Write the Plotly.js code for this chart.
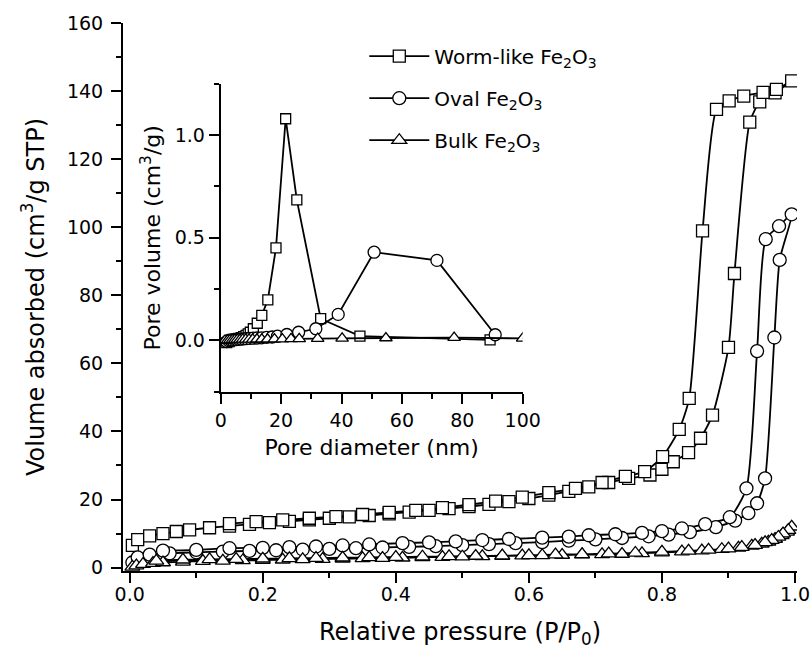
<!DOCTYPE html>
<html>
<head>
<meta charset="utf-8">
<script src="https://cdn.plot.ly/plotly-3.0.1.min.js"></script>
<style>html,body{margin:0;padding:0;background:#fff;}#chart{width:811px;height:654px;}</style>
</head>
<body>
<div id="chart"></div>
<script>
// ---- Main isotherms: adsorption branch (ascending) followed by desorption branch (descending)
const wormP = [0.004,0.012,0.03,0.05,0.07,0.09,0.12,0.15,0.18,0.21,0.24,0.27,0.30,0.33,0.36,0.39,0.42,0.45,0.48,0.51,0.54,0.57,0.60,0.63,0.66,0.69,0.72,0.75,0.782,0.800,0.817,0.840,0.858,0.876,0.900,0.909,0.932,0.947,0.970,0.995,
  0.972,0.952,0.923,0.901,0.882,0.861,0.841,0.826,0.801,0.774,0.745,0.71,0.67,0.63,0.59,0.55,0.51,0.47,0.43,0.39,0.35,0.31,0.27,0.23,0.19,0.15];
const wormV = [6.5,8.2,9.3,10.0,10.6,11.1,11.7,12.2,12.7,13.2,13.6,14.0,14.5,14.9,15.3,15.8,16.3,16.8,17.3,17.9,18.6,19.4,20.3,21.3,22.4,23.7,25.0,26.2,27.2,28.9,31.1,33.8,38.0,44.8,64.7,86.4,130.9,136.8,139.5,143.0,
  140.5,139.6,138.5,137.1,134.6,98.9,49.7,40.6,32.6,28.2,26.8,25.0,23.3,22.0,20.7,19.5,18.5,17.6,16.8,16.2,15.6,15.0,14.5,14.0,13.5,12.9];

const ovalP = [0.004,0.012,0.03,0.06,0.10,0.14,0.18,0.22,0.26,0.30,0.34,0.38,0.42,0.46,0.50,0.54,0.58,0.62,0.66,0.70,0.74,0.78,0.81,0.842,0.881,0.91,0.930,0.943,0.955,0.969,0.977,0.995,
  0.976,0.956,0.943,0.927,0.902,0.865,0.83,0.80,0.77,0.73,0.69,0.66,0.62,0.57,0.53,0.49,0.45,0.41,0.36,0.32,0.28,0.24,0.20,0.15,0.10,0.05];
const ovalV = [1.5,3.0,3.8,4.2,4.5,4.7,4.9,5.1,5.3,5.5,5.7,5.9,6.1,6.3,6.6,6.9,7.2,7.5,7.9,8.3,8.7,9.2,9.7,10.4,11.9,13.8,16.0,18.9,26.2,67.6,90.4,103.8,
  100.3,96.5,63.6,23.3,14.8,12.8,11.5,10.7,10.2,9.8,9.5,9.1,8.8,8.4,8.1,7.7,7.4,7.2,6.8,6.5,6.2,6.0,5.8,5.7,5.2,5.0];

const bulkP = [0.004,0.01,0.02,0.035,0.05,0.08,0.11,0.14,0.17,0.20,0.23,0.26,0.29,0.32,0.35,0.38,0.41,0.44,0.47,0.50,0.53,0.56,0.59,0.62,0.65,0.68,0.71,0.74,0.77,0.80,0.83,0.86,0.89,0.915,0.935,0.95,0.96,0.97,0.98,0.988,0.995,
  0.99,0.982,0.975,0.965,0.955,0.94,0.92,0.90,0.87,0.84,0.80,0.76,0.72,0.68,0.64,0.60,0.56,0.52,0.48,0.44,0.40,0.36,0.32,0.28,0.24,0.20,0.16,0.12,0.08,0.04];
const bulkV = [0.2,0.6,1.0,1.3,1.5,1.7,1.9,2.0,2.1,2.2,2.3,2.4,2.5,2.6,2.7,2.8,2.9,3.0,3.1,3.2,3.3,3.4,3.5,3.6,3.7,3.8,3.9,4.0,4.2,4.4,4.7,5.0,5.4,5.8,6.4,7.0,7.6,8.4,9.5,10.5,12.0,
  11.0,10.0,9.0,8.1,7.4,6.6,6.0,5.6,5.2,4.9,4.6,4.3,4.1,3.9,3.8,3.6,3.5,3.4,3.3,3.2,3.1,3.0,2.9,2.8,2.7,2.6,2.5,2.4,2.3,2.0];

// ---- Inset: pore size distribution
const wormD = [2.0,2.8,3.6,4.4,5.2,6.0,6.8,7.6,8.4,9.1,9.8,10.8,12.1,13.6,15.6,18.3,21.5,25.2,33.1,46.1,89.2];
const wormPV = [-0.01,-0.005,0.0,0.003,0.006,0.01,0.014,0.019,0.025,0.032,0.04,0.057,0.084,0.122,0.198,0.451,1.080,0.685,0.106,0.021,0.003];

const ovalD = [2.0,2.6,3.2,3.8,4.5,5.2,6.0,6.8,7.7,8.6,9.6,10.7,12.0,13.5,15.2,17.0,18.8,21.9,25.8,31.5,38.9,50.8,71.6,90.9];
const ovalPV = [-0.005,0.0,0.002,0.003,0.004,0.005,0.006,0.007,0.008,0.009,0.010,0.011,0.012,0.013,0.015,0.017,0.021,0.029,0.040,0.057,0.127,0.430,0.390,0.028];

const bulkD = [1.4,2.3,3.1,3.9,4.7,5.5,6.4,7.3,8.3,9.4,10.6,12.0,13.6,15.5,17.8,20.4,23.3,26.0,32.1,40.2,54.7,77.3,100.0];
const bulkPV = [0.0,0.002,0.003,0.003,0.004,0.004,0.004,0.005,0.005,0.005,0.005,0.006,0.006,0.006,0.007,0.007,0.008,0.008,0.009,0.010,0.012,0.014,0.010];

const seriesNames = ['Worm-like Fe<sub>2</sub>O<sub>3</sub>', 'Oval Fe<sub>2</sub>O<sub>3</sub>', 'Bulk Fe<sub>2</sub>O<sub>3</sub>'];

const BLACK = '#000';
function mk(symbol, size){ return {symbol: symbol, size: size, color: '#fff', line: {color: BLACK, width: 1.3}}; }

const traces = [
  {x: wormP, y: wormV, mode:'lines+markers', name: seriesNames[0], legendgroup:'a', line:{color:BLACK, width:1.8, shape:'spline', smoothing:0.6}, marker: mk('square',12), xaxis:'x', yaxis:'y'},
  {x: ovalP, y: ovalV, mode:'lines+markers', name: seriesNames[1], legendgroup:'b', line:{color:BLACK, width:1.8, shape:'spline', smoothing:0.6}, marker: mk('circle',13), xaxis:'x', yaxis:'y'},
  {x: bulkP, y: bulkV, mode:'lines+markers', name: seriesNames[2], legendgroup:'c', line:{color:BLACK, width:1.8, shape:'spline', smoothing:0.6}, marker: mk('triangle-up',13), xaxis:'x', yaxis:'y'},
  {x: wormD, y: wormPV, mode:'lines+markers', showlegend:false, legendgroup:'a', line:{color:BLACK, width:1.8}, marker: mk('square',10), xaxis:'x2', yaxis:'y2'},
  {x: ovalD, y: ovalPV, mode:'lines+markers', showlegend:false, legendgroup:'b', line:{color:BLACK, width:1.8}, marker: mk('circle',12), xaxis:'x2', yaxis:'y2'},
  {x: bulkD, y: bulkPV, mode:'lines+markers', showlegend:false, legendgroup:'c', line:{color:BLACK, width:1.8}, marker: mk('triangle-up',11), xaxis:'x2', yaxis:'y2'}
];

const axBase = {showline:true, linewidth:2, linecolor:BLACK, mirror:false, showgrid:false, zeroline:false,
  ticks:'outside', ticklen:10, tickwidth:2, tickcolor:BLACK, tickfont:{size:19, color:BLACK}};

const layout = {
  width: 811, height: 654,
  margin: {l:123, r:14, t:23, b:83, pad:0},
  paper_bgcolor:'#fff', plot_bgcolor:'#fff',
  font: {family:'DejaVu Sans, sans-serif', size:19, color:BLACK},
  showlegend: true,
  legend: {x:0.358, y:0.975, xanchor:'left', yanchor:'top', bgcolor:'rgba(0,0,0,0)', borderwidth:0,
    font:{size:20, color:BLACK}, itemwidth:60, traceorder:'grouped', tracegroupgap:13, itemclick:false},
  xaxis: Object.assign({}, axBase, {domain:[0,1], anchor:'y', range:[-0.0101,1.003], tick0:0, dtick:0.2, tickformat:'.1f',
    ticklabelstandoff:-5,
    minor:{dtick:0.1, ticklen:5, tickwidth:2, tickcolor:BLACK, ticks:'outside'},
    title:{text:'Relative pressure (P/P<sub>0</sub>)', font:{size:24}, standoff:19}}),
  yaxis: Object.assign({}, axBase, {domain:[0,1], anchor:'x', range:[-1,160], tick0:0, dtick:20,
    ticklabelstandoff:4,
    minor:{dtick:10, ticklen:5, tickwidth:2, tickcolor:BLACK, ticks:'outside'},
    title:{text:'Volume absorbed (cm<sup>3</sup>/g STP)', font:{size:24}, standoff:16}}),
  xaxis2: Object.assign({}, axBase, {domain:[0.145,0.593], anchor:'y2', range:[0,100], tick0:0, dtick:20,
    minor:{dtick:10, ticklen:5, tickwidth:2, tickcolor:BLACK, ticks:'outside'},
    title:{text:'Pore diameter (nm)', font:{size:22}, standoff:10}}),
  yaxis2: Object.assign({}, axBase, {domain:[0.327,0.889], anchor:'x2', range:[-0.25,1.25], tick0:0, dtick:0.5, tickformat:'.1f',
    minor:{dtick:0.25, ticklen:5, tickwidth:2, tickcolor:BLACK, ticks:'outside'},
    title:{text:'Pore volume (cm<sup>3</sup>/g)', font:{size:22}, standoff:8}})
};

Plotly.newPlot('chart', traces, layout, {staticPlot:true, displayModeBar:false});
</script>
</body>
</html>
